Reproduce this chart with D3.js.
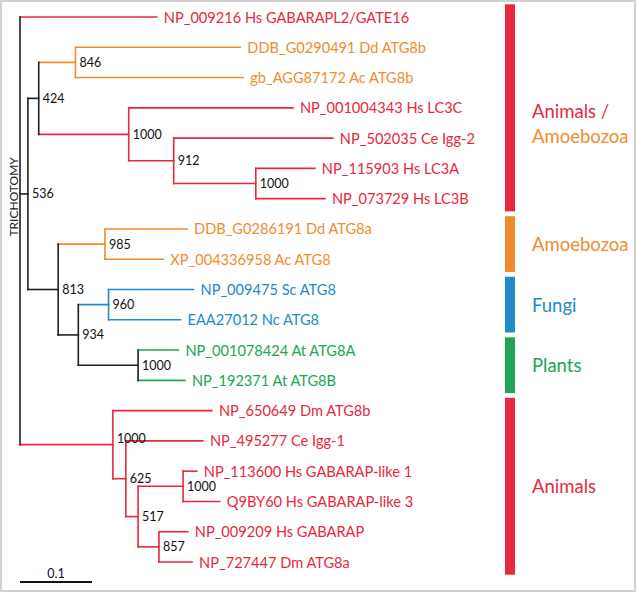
<!DOCTYPE html>
<html><head><meta charset="utf-8">
<script src="https://cdn.jsdelivr.net/npm/d3@7"></script>
<style>
html,body{margin:0;padding:0;background:#fff;}
svg{display:block;font-family:Lato,"Open Sans",sans-serif;}
</style>
</head><body>
<svg id="chart" width="637" height="594"></svg>
<script>
// ---------- DATA ----------
const nodeIds = [
  "root",
  "NP_009216 Hs GABARAPL2/GATE16",
  "n536", "n424", "n846",
  "DDB_G0290491 Dd ATG8b", "gb_AGG87172 Ac ATG8b",
  "n1000a", "NP_001004343 Hs LC3C",
  "n912", "NP_502035 Ce Igg-2",
  "n1000b", "NP_115903 Hs LC3A", "NP_073729 Hs LC3B",
  "n813", "n985", "DDB_G0286191 Dd ATG8a", "XP_004336958 Ac ATG8",
  "n934", "n960", "NP_009475 Sc ATG8", "EAA27012 Nc ATG8",
  "n1000c", "NP_001078424 At ATG8A", "NP_192371 At ATG8B",
  "n1000d", "NP_650649 Dm ATG8b",
  "n625", "NP_495277 Ce Igg-1",
  "n517", "n1000e", "NP_113600 Hs GABARAP-like 1", "Q9BY60 Hs GABARAP-like 3",
  "n857", "NP_009209 Hs GABARAP", "NP_727447 Dm ATG8a"
];
const parentIds = [
  "",
  "root",
  "root", "n536", "n424",
  "n846", "n846",
  "n424", "n1000a",
  "n1000a", "n912",
  "n912", "n1000b", "n1000b",
  "n536", "n813", "n985", "n985",
  "n813", "n934", "n960", "n960",
  "n934", "n1000c", "n1000c",
  "root", "n1000d",
  "n1000d", "n625",
  "n625", "n517", "n1000e", "n1000e",
  "n517", "n857", "n857"
];
const branchLengths = [
  0,
  0.190,
  0.011, 0.015, 0.051,
  0.229, 0.233,
  0.125, 0.228,
  0.0625, 0.221,
  0.114, 0.082, 0.096,
  0.042, 0.065, 0.114, 0.081,
  0.028, 0.042, 0.118, 0.100,
  0.083, 0.056, 0.065,
  0.129, 0.1375,
  0.018, 0.107,
  0.017, 0.0625, 0.019, 0.051,
  0.029, 0.040, 0.046
];
const supportValues = [
  null,
  null,
  536, 424, 846,
  null, null,
  1000, null,
  912, null,
  1000, null, null,
  813, 985, null, null,
  934, 960, null, null,
  1000, null, null,
  1000, null,
  625, null,
  517, 1000, null, null,
  857, null, null
];
const cladeOf = [
  "none",
  "animal",
  "none", "none", "amoeba",
  "amoeba", "amoeba",
  "animal", "animal",
  "animal", "animal",
  "animal", "animal", "animal",
  "none", "amoeba", "amoeba", "amoeba",
  "none", "fungi", "fungi", "fungi",
  "none", "plant", "plant",
  "animal", "animal",
  "animal", "animal",
  "animal", "animal", "animal", "animal",
  "animal", "animal", "animal"
];
const groupLines = [["Animals /", "Amoebozoa"], ["Amoebozoa"], ["Fungi"], ["Plants"], ["Animals"]];
const groupLineClades = [["animal", "amoeba"], ["amoeba"], ["fungi"], ["plant"], ["animal"]];
const groupClades = ["animal", "amoeba", "fungi", "plant", "animal"];
const groupFirstLeaf = ["NP_009216 Hs GABARAPL2/GATE16", "DDB_G0286191 Dd ATG8a", "NP_009475 Sc ATG8", "NP_001078424 At ATG8A", "NP_650649 Dm ATG8b"];
const groupLastLeaf = ["NP_073729 Hs LC3B", "XP_004336958 Ac ATG8", "EAA27012 Nc ATG8", "NP_192371 At ATG8B", "NP_727447 Dm ATG8a"];
const rootNote = "TRICHOTOMY";
const scaleBarValue = 0.1;

// ---------- STYLE ----------
const colors = {none: "#1e1e1e", animal: "#E8283C", amoeba: "#F08C2E", fungi: "#2389C9", plant: "#21A557"};

// ---------- BUILD ----------
const svg = d3.select("#chart");
svg.append("rect").attr("x", 1).attr("y", 1).attr("width", 634).attr("height", 590)
  .attr("fill", "#fff").attr("stroke", "#d2d2d2").attr("stroke-width", 2);

const table = nodeIds.map((id, i) => ({id, parent: parentIds[i] || null, len: branchLengths[i], support: supportValues[i], clade: cladeOf[i]}));
const root = d3.stratify().id(d => d.id).parentId(d => d.parent)(table);
root.eachBefore(n => { n.dist = n.parent ? n.parent.dist + n.data.len : 0; });

const leaves = root.leaves();
const x = d3.scaleLinear().domain([0, 0.6]).range([20, 452]);
const y = d3.scalePoint().domain(leaves.map(d => d.id)).range([17, 562]);
root.eachAfter(n => {
  n.py = n.children ? (n.children[0].py + n.children[n.children.length - 1].py) / 2 : y(n.id);
});

const g = svg.append("g");
const sw = 1.6;
// horizontal branches
g.selectAll("line.h").data(root.descendants().filter(n => n.parent)).join("line")
  .attr("class", "h")
  .attr("x1", n => x(n.parent.dist)).attr("x2", n => x(n.dist))
  .attr("y1", n => n.py).attr("y2", n => n.py)
  .attr("stroke", n => colors[n.data.clade]).attr("stroke-width", sw).attr("stroke-linecap", "square");
// vertical connectors
g.selectAll("line.v").data(root.descendants().filter(n => n.children)).join("line")
  .attr("class", "v")
  .attr("x1", n => x(n.dist)).attr("x2", n => x(n.dist))
  .attr("y1", n => n.children[0].py).attr("y2", n => n.children[n.children.length - 1].py)
  .attr("stroke", n => colors[n.data.clade]).attr("stroke-width", sw).attr("stroke-linecap", "square");
// leaf labels
g.selectAll("text.leaf").data(leaves).join("text")
  .attr("class", "leaf")
  .attr("x", n => x(n.dist) + 7).attr("y", n => n.py)
  .attr("dominant-baseline", "central")
  .attr("font-size", 14.6)
  .attr("fill", n => colors[n.data.clade])
  .text(n => n.id);
// support values
const nudge = {n1000d: -6};
g.selectAll("text.sup").data(root.descendants().filter(n => n.data.support != null)).join("text")
  .attr("class", "sup")
  .attr("x", n => x(n.dist) + 4).attr("y", n => n.py + (nudge[n.id] || 0))
  .attr("dominant-baseline", "central")
  .attr("font-size", 12.5)
  .attr("fill", "#111")
  .text(n => n.data.support);
// trichotomy note
svg.append("text")
  .attr("transform", `translate(13,${root.py - 34}) rotate(-90)`)
  .attr("text-anchor", "middle").attr("dominant-baseline", "central")
  .attr("font-size", 12).attr("fill", "#222")
  .text(rootNote);

// group bars
const step = y.step();
groupClades.forEach((c, i) => {
  const y0 = y(groupFirstLeaf[i]) - step * 0.42;
  const y1 = y(groupLastLeaf[i]) + step * 0.42;
  svg.append("rect").attr("x", 505).attr("y", y0).attr("width", 10).attr("height", y1 - y0)
    .attr("fill", colors[c]);
  const mid = (y0 + y1) / 2;
  const lines = groupLines[i];
  const off = lines.length > 1 ? 3 : 0;
  lines.forEach((t, j) => {
    svg.append("text").attr("x", 532).attr("y", mid + off + j * 25)
      .attr("dominant-baseline", "central")
      .attr("font-size", 18.5)
      .attr("fill", colors[groupLineClades[i][j]])
      .text(t);
  });
});

// scale bar
const sb = svg.append("g");
sb.append("line").attr("x1", x(0)).attr("x2", x(scaleBarValue)).attr("y1", 582).attr("y2", 582)
  .attr("stroke", "#111").attr("stroke-width", 2);
sb.append("text").attr("x", (x(0) + x(scaleBarValue)) / 2).attr("y", 573)
  .attr("text-anchor", "middle").attr("dominant-baseline", "central")
  .attr("font-size", 12.5).attr("fill", "#111").text(scaleBarValue);
</script>
</body></html>
